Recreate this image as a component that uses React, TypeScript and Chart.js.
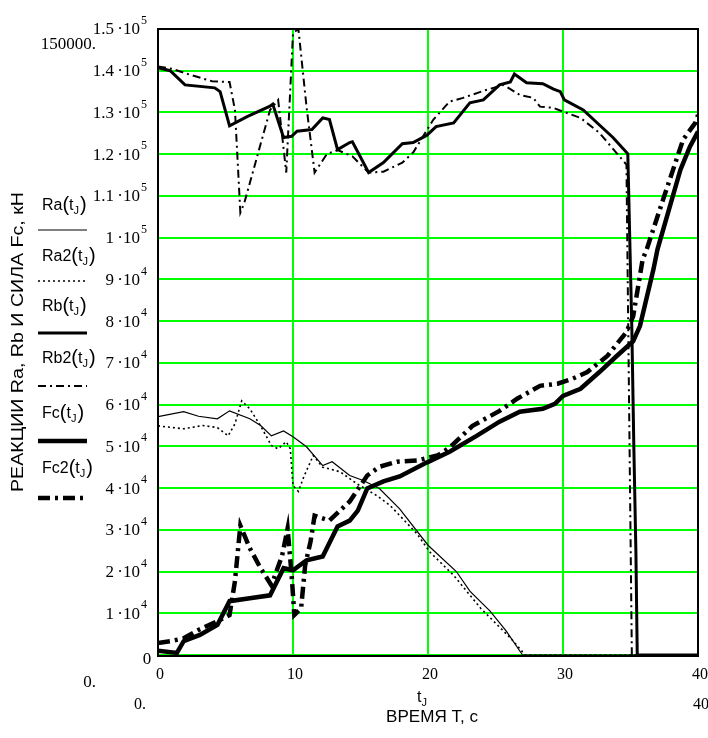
import React, { useEffect, useRef } from "react";
import { Chart, registerables } from "chart.js";

Chart.register(...registerables);

// ---------- data (time t, c  /  force, kN) ----------
const raT = [0, 1.9, 3.0, 4.4, 5.3, 6.8, 7.6, 8.4, 9.3, 10.0, 11.0, 12.2, 12.9, 14.2, 15.2, 16.4, 17.9, 20.0, 22.1, 23.1, 24.6, 25.8, 27.0, 40];
const raV = [57100, 58300, 57200, 56600, 58500, 56600, 55000, 52500, 53700, 52300, 49900, 45400, 46300, 43000, 41800, 39900, 35000, 26300, 20000, 15300, 10500, 5700, 0, 0];

const ra2T = [0, 1.9, 3.3, 4.4, 5.2, 5.7, 6.2, 6.8, 7.6, 8.4, 8.9, 9.5, 9.8, 10.0, 10.4, 10.8, 11.5, 12.2, 13.5, 14.7, 16.2, 17.2, 19.2, 20.1, 21.9, 23.9, 26.1, 27.2, 40];
const ra2V = [54900, 54200, 55000, 54500, 52500, 55400, 60900, 59000, 54900, 50200, 49400, 51100, 49400, 40600, 39200, 42700, 47800, 45000, 43900, 41100, 38200, 35800, 29000, 24800, 19100, 11200, 4100, 0, 0];

const rbT = [0, 0.9, 2.0, 4.2, 4.6, 5.3, 6.6, 8.3, 8.5, 9.3, 9.9, 10.3, 11.4, 12.2, 12.7, 13.3, 14.2, 14.4, 15.6, 16.7, 18.1, 18.9, 19.9, 20.6, 21.9, 23.1, 24.1, 25.3, 26.1, 26.4, 27.3, 28.5, 29.3, 29.8, 30.1, 31.5, 32.7, 33.7, 34.8, 35.1, 35.25, 35.4, 35.5, 40];
const rbV = [140700, 140000, 136600, 135900, 135000, 126800, 129000, 131500, 132000, 124000, 124300, 125500, 125900, 128700, 128300, 121100, 122800, 123000, 115600, 118000, 122500, 122800, 124500, 126600, 127500, 132300, 133000, 136600, 137300, 139200, 137100, 136900, 135600, 135000, 133000, 130600, 127000, 124000, 120100, 78000, 49400, 24800, 0, 0];

const rb2T = [0, 1.0, 2.4, 4.0, 5.3, 5.7, 6.1, 6.4, 8.3, 8.9, 9.5, 10.0, 10.4, 11.0, 11.6, 12.5, 13.3, 14.4, 15.6, 16.7, 18.1, 18.9, 20.4, 21.6, 22.6, 24.3, 25.6, 26.8, 27.8, 28.3, 29.3, 30.0, 31.3, 32.7, 34.2, 34.7, 35.1, 40];
const rb2V = [141000, 140500, 139000, 137500, 137300, 130600, 106000, 108400, 130600, 133000, 115600, 149000, 150000, 131400, 115600, 120000, 121000, 119500, 115600, 115800, 118000, 120400, 128300, 132600, 133500, 135400, 136600, 134200, 133500, 131400, 131100, 130200, 128700, 125100, 119400, 117500, 0, 0];

const fcT = [0, 1.4, 1.9, 3.1, 4.4, 5.3, 6.8, 8.3, 9.3, 10.0, 11.0, 12.2, 13.3, 14.2, 14.8, 15.5, 16.7, 17.9, 19.9, 21.6, 23.6, 25.3, 26.8, 28.5, 29.4, 30.0, 31.3, 32.7, 34.0, 35.2, 35.7, 36.7, 37.0, 38.7, 39.4, 40];
const fcV = [1000, 500, 3300, 4800, 7200, 12900, 13600, 14300, 20800, 20300, 22700, 23600, 30800, 32200, 34600, 39900, 41600, 42800, 46100, 48700, 52500, 55900, 58300, 59000, 60200, 62100, 63800, 67800, 71700, 75200, 78800, 92400, 97200, 116300, 121800, 125400];

const fc2T = [0, 0.9, 1.9, 3.0, 4.4, 5.3, 5.7, 6.1, 6.8, 7.6, 8.4, 9.2, 9.6, 9.9, 10.1, 10.6, 10.9, 11.3, 11.6, 12.7, 14.2, 15.5, 16.4, 17.7, 19.2, 20.7, 21.6, 23.3, 25.3, 26.6, 28.3, 29.6, 30.7, 31.8, 33.3, 34.7, 35.2, 35.9, 36.2, 37.4, 38.9, 39.8, 40];
const fc2V = [2900, 3300, 4000, 6000, 8100, 9600, 17700, 31000, 25600, 20800, 16700, 23900, 30300, 19100, 9600, 11200, 21500, 27200, 33400, 32200, 36800, 43000, 45100, 46300, 46600, 47800, 49700, 54900, 58500, 61400, 64500, 65000, 66200, 67800, 71700, 77400, 81200, 94800, 97200, 109000, 123500, 127500, 129400];

// ---------- tick labels ----------
const xTickValues = [0, 10, 20, 30, 40];
const xTickLabels = ["0", "10", "20", "30", "40"];
const yTickValues = [10000, 20000, 30000, 40000, 50000, 60000, 70000, 80000, 90000, 100000, 110000, 120000, 130000, 140000, 150000];
const yTickMantissa = ["1", "2", "3", "4", "5", "6", "7", "8", "9", "1", "1.1", "1.2", "1.3", "1.4", "1.5"];
const yTickExponent = ["4", "4", "4", "4", "4", "4", "4", "4", "4", "5", "5", "5", "5", "5", "5"];
const legendNames = ["Ra", "Ra2", "Rb", "Rb2", "Fc", "Fc2"];

const yTitle = "РЕАКЦИИ Ra, Rb И СИЛА Fc, кН";
const xTitle = "ВРЕМЯ Т, с";
const yRangeMaxLabel = "150000.";
const yRangeMinLabel = "0.";
const xRangeMinLabel = "0.";
const xRangeMaxLabel = "40.";

const SANS = '"Liberation Sans", Arial, sans-serif';
const SERIF = '"Liberation Serif", "Times New Roman", serif';

function pts(t: number[], v: number[]) {
  return t.map((x, i) => ({ x, y: v[i] }));
}

function drawFnLabel(ctx: CanvasRenderingContext2D, name: string, x: number, cy: number) {
  const base = cy + 6;
  ctx.textAlign = "left";
  ctx.textBaseline = "alphabetic";
  ctx.fillStyle = "#000";
  ctx.font = `16px ${SANS}`;
  ctx.fillText(name, x, base);
  x += ctx.measureText(name).width;
  ctx.font = `20px ${SANS}`;
  ctx.fillText("(", x, base + 1);
  x += ctx.measureText("(").width;
  ctx.font = `16px ${SANS}`;
  ctx.fillText("t", x, base);
  x += ctx.measureText("t").width;
  ctx.font = `11px ${SANS}`;
  ctx.fillText("J", x, base + 4);
  x += ctx.measureText("J").width + 1;
  ctx.font = `20px ${SANS}`;
  ctx.fillText(")", x, base + 1);
}

const labelPlugin = {
  id: "mathcadLabels",
  beforeDatasetsDraw(chart: any) {
    const ctx: CanvasRenderingContext2D = chart.ctx;
    const a = chart.chartArea;
    ctx.save();
    ctx.strokeStyle = "#000";
    ctx.lineWidth = 2;
    ctx.setLineDash([]);
    ctx.strokeRect(a.left, a.top, a.right - a.left, a.bottom - a.top + 1);
    ctx.restore();
  },
  afterDraw(chart: any) {
    const ctx: CanvasRenderingContext2D = chart.ctx;
    const a = chart.chartArea;
    const xs = chart.scales.x;
    const ys = chart.scales.y;
    ctx.save();

    // y tick labels
    ctx.fillStyle = "#000";
    const rightX = a.left - 18;
    yTickValues.forEach((v, i) => {
      const y = ys.getPixelForValue(v);
      ctx.font = `17px ${SERIF}`;
      ctx.textAlign = "right";
      ctx.textBaseline = "middle";
      ctx.fillText(`${yTickMantissa[i]}\u2009·10`, rightX, y + 1);
      ctx.font = `12px ${SERIF}`;
      ctx.textAlign = "left";
      ctx.fillText(yTickExponent[i], rightX + 1, y - 8);
    });
    ctx.font = `17px ${SERIF}`;
    ctx.textAlign = "center";
    ctx.textBaseline = "middle";
    ctx.fillText("0", a.left - 11, ys.getPixelForValue(0) + 5);

    // range labels
    ctx.textAlign = "right";
    ctx.fillText(yRangeMaxLabel, 96, 45);
    ctx.fillText(yRangeMinLabel, 96, 683);

    // x tick labels
    ctx.font = `16px ${SERIF}`;
    ctx.textAlign = "center";
    xTickValues.forEach((v, i) => {
      ctx.fillText(xTickLabels[i], xs.getPixelForValue(v) + 2, a.bottom + 20);
    });
    ctx.textAlign = "left";
    ctx.fillText(xRangeMinLabel, 134, 705);
    ctx.fillText(xRangeMaxLabel, 693, 705);

    // t_J
    ctx.font = `16px ${SANS}`;
    ctx.textBaseline = "alphabetic";
    const tw = ctx.measureText("t").width;
    ctx.fillText("t", 417, 702);
    ctx.font = `11px ${SANS}`;
    ctx.fillText("J", 417 + tw, 706);

    // x title
    ctx.font = `16px ${SANS}`;
    ctx.textAlign = "center";
    ctx.textBaseline = "middle";
    {
      const w = ctx.measureText(xTitle).width;
      ctx.save();
      ctx.translate(432, 718);
      ctx.scale(92 / w, 1);
      ctx.fillText(xTitle, 0, 0);
      ctx.restore();
    }

    // y title (rotated)
    {
      ctx.font = `16px ${SANS}`;
      const w = ctx.measureText(yTitle).width;
      ctx.save();
      ctx.translate(19, 342);
      ctx.rotate(-Math.PI / 2);
      ctx.scale(300 / w, 1);
      ctx.textAlign = "center";
      ctx.textBaseline = "middle";
      ctx.fillText(yTitle, 0, 0);
      ctx.restore();
    }

    // legend column
    const labelYs = [204, 255, 305, 357, 412, 467];
    const lineYs = [230, 281, 333, 386, 441, 498];
    chart.data.datasets.forEach((ds: any, i: number) => {
      drawFnLabel(ctx, legendNames[i], 42, labelYs[i]);
      ctx.beginPath();
      ctx.strokeStyle = "#000";
      ctx.lineWidth = ds.borderWidth;
      ctx.setLineDash(ds.borderDash || []);
      ctx.moveTo(38, lineYs[i]);
      ctx.lineTo(87, lineYs[i]);
      ctx.stroke();
    });

    ctx.restore();
  },
};

export default function App() {
  const ref = useRef<HTMLCanvasElement | null>(null);

  useEffect(() => {
    document.body.style.margin = "0";
    const canvas = ref.current;
    if (!canvas) return;
    const common = { borderColor: "#000", pointRadius: 0, fill: false, tension: 0, clip: { left: 0, right: 0, top: 0, bottom: 4 } };
    const chart = new Chart(canvas, {
      type: "line",
      data: {
        datasets: [
          { ...common, label: "Ra", data: pts(raT, raV), borderWidth: 1.2, borderDash: [] },
          { ...common, label: "Ra2", data: pts(ra2T, ra2V), borderWidth: 1.6, borderDash: [2, 3] },
          { ...common, label: "Rb", data: pts(rbT, rbV), borderWidth: 3, borderDash: [] },
          { ...common, label: "Rb2", data: pts(rb2T, rb2V), borderWidth: 2, borderDash: [8, 4, 2, 4] },
          { ...common, label: "Fc", data: pts(fcT, fcV), borderWidth: 4.5, borderDash: [] },
          { ...common, label: "Fc2", data: pts(fc2T, fc2V), borderWidth: 4.5, borderDash: [12, 5, 3, 5] },
        ] as any,
      },
      options: {
        animation: false,
        responsive: false,
        devicePixelRatio: 1,
        parsing: false as any,
        layout: { padding: { left: 158, top: 29, right: 10, bottom: 83 } },
        plugins: { legend: { display: false }, tooltip: { enabled: false }, title: { display: false } },
        scales: {
          x: {
            type: "linear",
            min: 0,
            max: 40,
            ticks: { display: false, stepSize: 10, maxTicksLimit: 100 },
            grid: { color: "#00ff00", lineWidth: 2, drawTicks: false },
            border: { display: false },
          },
          y: {
            type: "linear",
            min: 0,
            max: 150000,
            ticks: { display: false, stepSize: 10000, maxTicksLimit: 100 },
            grid: { color: "#00ff00", lineWidth: 2, drawTicks: false },
            border: { display: false },
          },
        },
      },
      plugins: [labelPlugin],
    });
    return () => chart.destroy();
  }, []);

  return <canvas ref={ref} width={708} height={738} style={{ display: "block" }} />;
}
